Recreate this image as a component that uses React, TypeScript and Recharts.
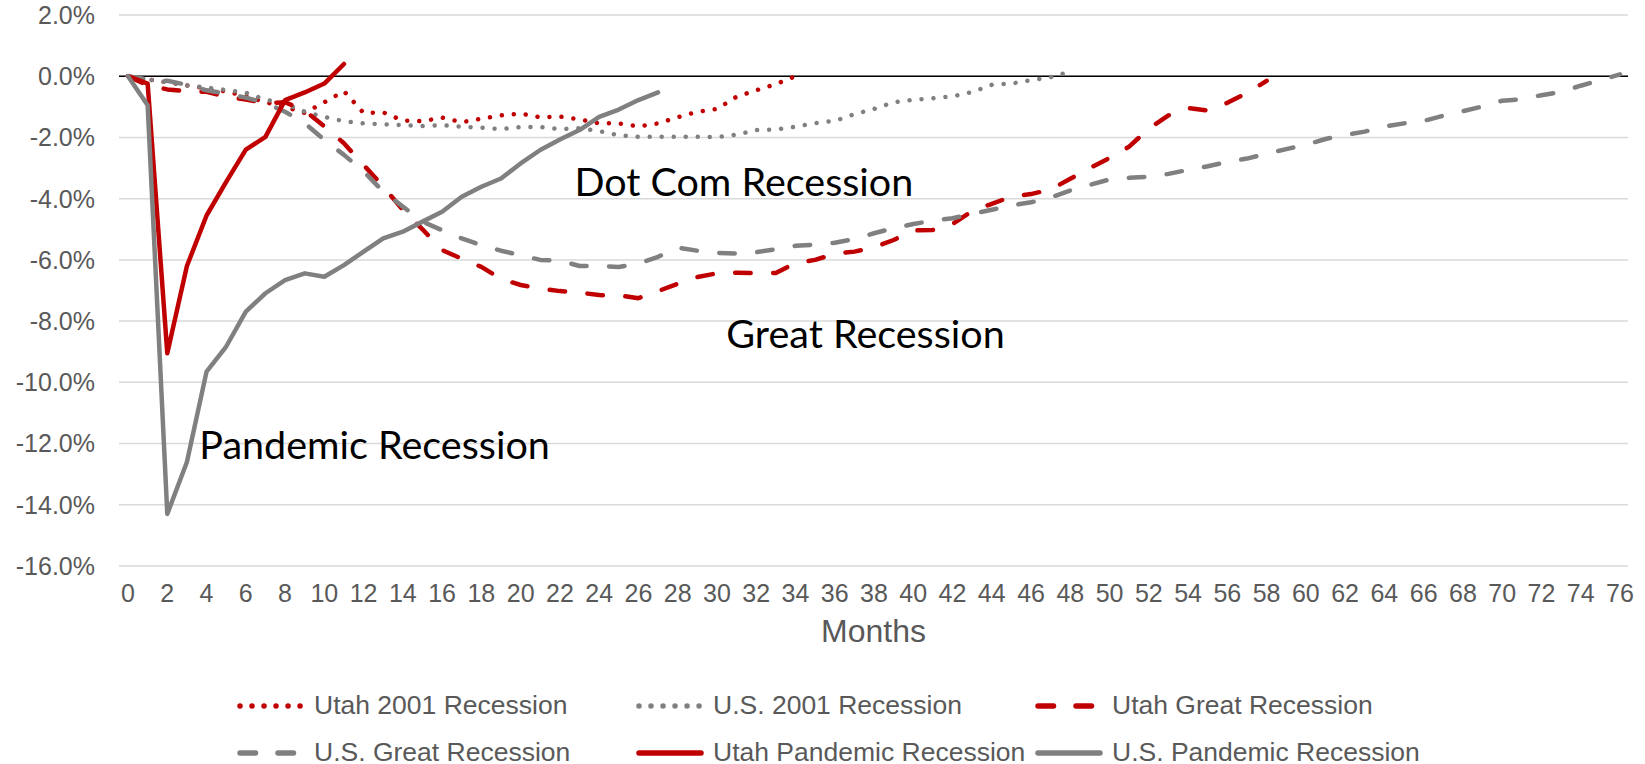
import React from 'react';
import { LineChart, Line, XAxis, YAxis, CartesianGrid, ReferenceLine, ReferenceDot, Legend, Label } from 'recharts';

// employment change from pre-recession peak, % by month since peak
const utah2001 = [
  0, -0.1, -0.2, -0.3, -0.4, -0.5, -0.65, -0.85, -1.0, -1.2,
  -0.85, -0.49, -1.2, -1.18, -1.45, -1.47, -1.35, -1.5, -1.39, -1.28,
  -1.22, -1.34, -1.32, -1.41, -1.54, -1.54, -1.64, -1.54, -1.34, -1.16,
  -1.07, -0.67, -0.46, -0.26, 0.0,
];
const us2001 = [
  0, -0.1, -0.2, -0.3, -0.37, -0.45, -0.54, -0.76, -0.9, -1.16,
  -1.33, -1.47, -1.54, -1.57, -1.6, -1.63, -1.6, -1.65, -1.68, -1.73,
  -1.66, -1.66, -1.73, -1.7, -1.79, -1.93, -1.98, -1.98, -1.98, -1.98,
  -1.99, -1.91, -1.76, -1.74, -1.65, -1.53, -1.46, -1.24, -1.07, -0.85,
  -0.77, -0.72, -0.66, -0.52, -0.28, -0.24, -0.13, -0.03, 0.15,
];
const utahGreat = [
  0, -0.3, -0.43, -0.49, -0.51, -0.67, -0.76, -0.88, -0.85, -1.12,
  -1.64, -2.19, -2.9, -3.6, -4.37, -5.0, -5.68, -5.96, -6.23, -6.62,
  -6.82, -6.93, -7.02, -7.07, -7.15, -7.16, -7.25, -7.02, -6.78, -6.56,
  -6.44, -6.42, -6.43, -6.43, -6.1, -6.0, -5.8, -5.73, -5.59, -5.35,
  -5.04, -5.02, -4.83, -4.4, -4.17, -3.93, -3.85, -3.7, -3.35, -3.0,
  -2.67, -2.3, -1.71, -1.28, -1.04, -1.12, -0.87, -0.55, -0.15,
];
const usGreat = [
  0, -0.1, -0.15, -0.28, -0.46, -0.57, -0.7, -0.87, -1.16, -1.53,
  -2.08, -2.57, -3.11, -3.77, -4.26, -4.75, -5.03, -5.3, -5.52, -5.7,
  -5.85, -6.0, -6.02, -6.2, -6.2, -6.23, -6.12, -5.9, -5.6, -5.7,
  -5.77, -5.79, -5.75, -5.65, -5.54, -5.5, -5.44, -5.32, -5.13, -4.96,
  -4.83, -4.72, -4.64, -4.5, -4.36, -4.22, -4.12, -3.96, -3.73, -3.55,
  -3.37, -3.32, -3.28, -3.19, -3.06, -2.94, -2.8, -2.69, -2.53, -2.38,
  -2.24, -2.05, -1.92, -1.81, -1.64, -1.54, -1.46, -1.29, -1.14, -0.99,
  -0.8, -0.75, -0.62, -0.51, -0.31, -0.13, 0.06,
];
const utahPandemic = [0, -0.24, -9.05, -6.2, -4.55, -3.45, -2.4, -1.98, -0.78, -0.53, -0.24, 0.4];
const usPandemic = [
  0, -0.95, -14.3, -12.6, -9.65, -8.83, -7.69, -7.09, -6.66, -6.44,
  -6.55, -6.17, -5.73, -5.3, -5.08, -4.75, -4.43, -3.94, -3.61, -3.34,
  -2.85, -2.41, -2.07, -1.76, -1.33, -1.09, -0.78, -0.53,
];

const xTicks = [0, 2, 4, 6, 8, 10, 12, 14, 16, 18, 20, 22, 24, 26, 28, 30, 32, 34, 36, 38,
  40, 42, 44, 46, 48, 50, 52, 54, 56, 58, 60, 62, 64, 66, 68, 70, 72, 74, 76];
const yTicks = [-16, -14, -12, -10, -8, -6, -4, -2, 0, 2];

const annotations = [
  { text: 'Dot Com Recession', month: 31.37, value: -3.45 },
  { text: 'Great Recession', month: 37.57, value: -8.42 },
  { text: 'Pandemic Recession', month: 12.56, value: -12.05 },
];

const RED = '#C00000';
const GRAY = '#808080';
const DOTS = '0.01 12';
const DASH = '15.5 22.5';
const FONT = '"Liberation Sans", Arial, sans-serif';

const series = [
  { key: 'utah2001', name: 'Utah 2001 Recession', color: RED, dash: DOTS, values: utah2001 },
  { key: 'us2001', name: 'U.S. 2001 Recession', color: GRAY, dash: DOTS, values: us2001 },
  { key: 'utahGreat', name: 'Utah Great Recession', color: RED, dash: DASH, values: utahGreat },
  { key: 'usGreat', name: 'U.S. Great Recession', color: GRAY, dash: DASH, values: usGreat },
  { key: 'utahPandemic', name: 'Utah Pandemic Recession', color: RED, dash: undefined, values: utahPandemic },
  { key: 'usPandemic', name: 'U.S. Pandemic Recession', color: GRAY, dash: undefined, values: usPandemic },
];

const rows = usGreat.map((_, m) => {
  const row: any = { month: m };
  series.forEach((s) => {
    row[s.key] = m < s.values.length ? s.values[m] : null;
  });
  return row;
});

const renderLegend = () => (
  <div style={{ position: 'relative', width: 1645, height: 82, fontFamily: FONT, fontSize: 26.5, color: '#595959' }}>
    {series.map((s, i) => (
      <div
        key={s.key}
        style={{
          position: 'absolute',
          left: 236 + (i % 3) * 399,
          top: Math.floor(i / 3) * 47,
          height: 47,
          display: 'flex',
          alignItems: 'center',
          whiteSpace: 'nowrap',
        }}
      >
        <svg width={70} height={12} style={{ marginRight: 8 }}>
          <line x1={4} y1={6} x2={66} y2={6} stroke={s.color} strokeWidth={5.5}
            strokeDasharray={s.dash} strokeLinecap="round" />
        </svg>
        <span>{s.name}</span>
      </div>
    ))}
  </div>
);

export default function App() {
  return (
    <div style={{ position: 'absolute', left: 0, top: 0, width: 1645, height: 764, background: '#fff' }}>
      <LineChart width={1645} height={764} data={rows} margin={{ top: 15, right: 17, left: 0, bottom: 118 }}>
        <CartesianGrid vertical={false} stroke="#d9d9d9" strokeWidth={1.5} />
        <XAxis
          dataKey="month"
          type="number"
          domain={[-0.46, 76.41]}
          allowDataOverflow
          ticks={xTicks}
          interval={0}
          height={80}
          axisLine={false}
          tickLine={false}
          tickSize={0}
          tickMargin={18}
          tick={{ fontSize: 25, fill: '#595959', fontFamily: FONT }}
        >
          <Label value="Months" position="insideBottom" offset={4} fontSize={32} fill="#595959" fontFamily={FONT} />
        </XAxis>
        <YAxis
          type="number"
          domain={[-16, 2]}
          ticks={yTicks}
          interval={0}
          width={119}
          axisLine={false}
          tickLine={false}
          tickSize={0}
          tickMargin={24}
          tick={{ fontSize: 25, fill: '#595959', fontFamily: FONT }}
          tickFormatter={(v: number) => `${v.toFixed(1)}%`}
        />
        <ReferenceLine y={0} stroke="#000" strokeWidth={1.5} />
        {series.map((s) => (
          <Line
            key={s.key}
            dataKey={s.key}
            name={s.name}
            type="linear"
            stroke={s.color}
            strokeWidth={4.5}
            strokeDasharray={s.dash}
            strokeLinecap="round"
            strokeLinejoin="round"
            dot={false}
            activeDot={false}
            connectNulls={false}
            isAnimationActive={false}
          />
        ))}
        {annotations.map((a) => (
          <ReferenceDot
            key={a.text}
            x={a.month}
            y={a.value}
            r={0}
            fill="none"
            stroke="none"
            label={{ value: a.text, position: 'center', fontSize: 39.5, fill: '#000', fontFamily: 'Lato' }}
          />
        ))}
        <Legend
          verticalAlign="middle"
          align="center"
          layout="horizontal"
          wrapperStyle={{ top: 682, left: 0, width: 1645, height: 82 }}
          content={renderLegend}
        />
      </LineChart>
    </div>
  );
}
